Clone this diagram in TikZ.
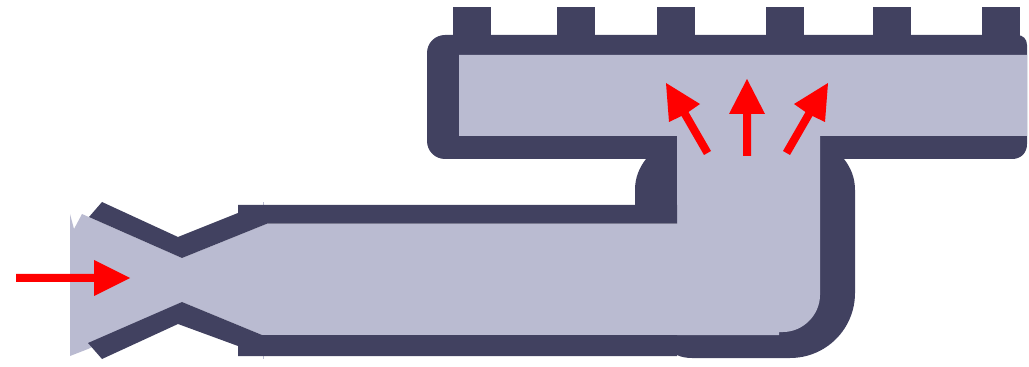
\documentclass[tikz,border=0pt]{standalone}
\definecolor{wall}{RGB}{65,65,96}
\definecolor{gas}{RGB}{186,187,209}
\tikzset{
  wallfill/.style={fill=wall,draw=none},
  gasfill/.style={fill=gas,draw=none},
  flowhead/.style={fill=red,draw=none}
}
\begin{document}
\begin{tikzpicture}[x=0.75pt,y=-0.75pt]
\useasboundingbox (0,0) rectangle (1029,367);
% manifold ports
\foreach \px in {453,557,657,766,873,982}{
  \fill[wall] (\px,7) rectangle (\px+38,40);
}
% manifold outer wall
\path[wallfill] (445,35) -- (1017,35) .. controls (1023,35) and (1027,39) .. (1027,45)
  -- (1027,144) .. controls (1027,153) and (1021,159) .. (1012,159)
  -- (445,159) .. controls (435,159) and (427,151) .. (427,141)
  -- (427,53) .. controls (427,43) and (435,35) .. (445,35) -- cycle;
% riser walls
\path[wallfill] (646,155) -- (677,155) -- (677,210) -- (635,210) -- (635,190)
  .. controls (635,178) and (639,168) .. (646,159) -- cycle;
\path[wallfill] (800,155) -- (841,155) -- (844,159) .. controls (851,168) and (855,178) .. (855,190)
  -- (855,293) .. controls (855,329) and (826,358) .. (790,358)
  -- (692,358) .. controls (686,358) and (681,357) .. (677,355)
  -- (677,325) -- (800,325) -- cycle;
% sliver ends
\path[gasfill] (263,202.5) -- (264,202.5) -- (264,210) -- (263,210) -- cycle;
\path[gasfill] (263,350) -- (264,350) -- (264,358.5) -- (263,358.5) -- cycle;
% gas
\path[gasfill] (70,214) -- (74,229) -- (82,214) -- (182,258) -- (267,223.7) -- (677,223.7)
  -- (677,136) -- (459,136) -- (459,55) -- (1027,55) -- (1027,136) -- (820,136)
  -- (820,295) .. controls (820,315) and (803,332) .. (783,332) -- (779,332) -- (779,335)
  -- (262,335) -- (182,302) -- (88,349) -- (70,356) -- cycle;
% venturi and pipe walls
\path[wallfill] (89,217) -- (102,202) -- (178,237) -- (238,213) -- (238,205) -- (677,205)
  -- (677,223.7) -- (267,223.7) -- (182,258) -- cycle;
\path[wallfill] (88,343) -- (102,359) -- (178,324) -- (238,346) -- (238,356) -- (677,356)
  -- (677,335) -- (262,335) -- (182,302) -- cycle;
% arrows
\path[flowhead] (16,274) -- (94,274) -- (94,260) -- (130,278) -- (94,296) -- (94,282) -- (16,282) -- cycle;
\path[flowhead] (743,156) -- (743,114) -- (729,114) -- (747,79) -- (765,114) -- (751,114) -- (751,156) -- cycle;
\path[flowhead] (704,155) -- (681.5,116) -- (669,122) -- (666,83) -- (700,104) -- (688.5,112) -- (711,151) -- cycle;
\path[flowhead] (790,155) -- (812.5,116) -- (825,122) -- (828,83) -- (794,104) -- (805.5,112) -- (783,151) -- cycle;
\end{tikzpicture}
\end{document}
